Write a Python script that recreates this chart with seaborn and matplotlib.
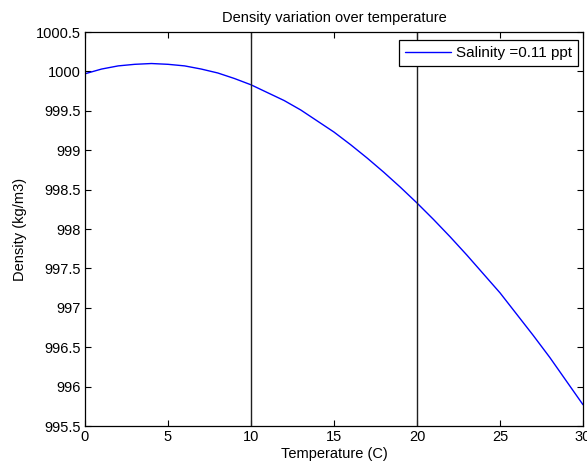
import pandas as pd
import matplotlib
matplotlib.use("Agg")
import matplotlib.pyplot as plt
import seaborn as sns

# values
temperature = list(range(0, 31))
density = [999.97, 1000.03, 1000.07, 1000.09, 1000.10, 1000.09, 1000.07, 1000.03,
           999.98, 999.91, 999.83, 999.73, 999.63, 999.51, 999.37, 999.23,
           999.07, 998.90, 998.72, 998.53, 998.33, 998.12, 997.90, 997.67,
           997.43, 997.19, 996.92, 996.65, 996.37, 996.07, 995.77]
marker_temps = [10, 20]
x_ticks = [0, 5, 10, 15, 20, 25, 30]
y_ticks = [995.5, 996, 996.5, 997, 997.5, 998, 998.5, 999, 999.5, 1000, 1000.5]
y_labels = ["995.5", "996", "996.5", "997", "997.5", "998", "998.5", "999", "999.5", "1000", "1000.5"]

df = pd.DataFrame({"Temperature": temperature, "Density": density})

sns.set_style("ticks")
plt.rcParams["font.family"] = ["Liberation Sans", "DejaVu Sans"]
plt.rcParams["font.size"] = 10.5
plt.rcParams["text.color"] = "black"
plt.rcParams["axes.labelcolor"] = "black"

fig = plt.figure(figsize=(5.87, 4.70), dpi=100)
ax = fig.add_axes([0.1448, 0.0936, 0.8484, 0.8383])

sns.lineplot(data=df, x="Temperature", y="Density", color="#0000ff", linewidth=1.0,
             label="Salinity =0.11 ppt", ax=ax)
for t in marker_temps:
    ax.axvline(t, color="#202020", linewidth=1.0)

ax.set_xlim(0, 30)
ax.set_ylim(995.5, 1000.5)
ax.set_xticks(x_ticks)
ax.set_xticklabels([str(t) for t in x_ticks])
ax.set_yticks(y_ticks)
ax.set_yticklabels(y_labels)
ax.tick_params(direction="in", length=4, width=0.8, top=True, right=True,
               labelsize=10.5, colors="black", pad=3)
for s in ax.spines.values():
    s.set_visible(True)
    s.set_color("black")
    s.set_linewidth(0.9)

ax.set_xlabel("Temperature (C)", fontsize=10.5, labelpad=2)
ax.set_ylabel("Density (kg/m3)", fontsize=10.5, labelpad=6)
ax.set_title("Density variation over temperature", fontsize=10.5, pad=7)

leg = ax.legend(loc="upper right", frameon=True, fancybox=False, fontsize=11,
                handlelength=3.0, handletextpad=0.35, borderpad=0.4,
                borderaxespad=0, bbox_to_anchor=(0.990, 0.980))
leg.get_frame().set_edgecolor("black")
leg.get_frame().set_linewidth(0.9)
leg.get_frame().set_alpha(1)

fig.savefig("out.png", dpi=100)
